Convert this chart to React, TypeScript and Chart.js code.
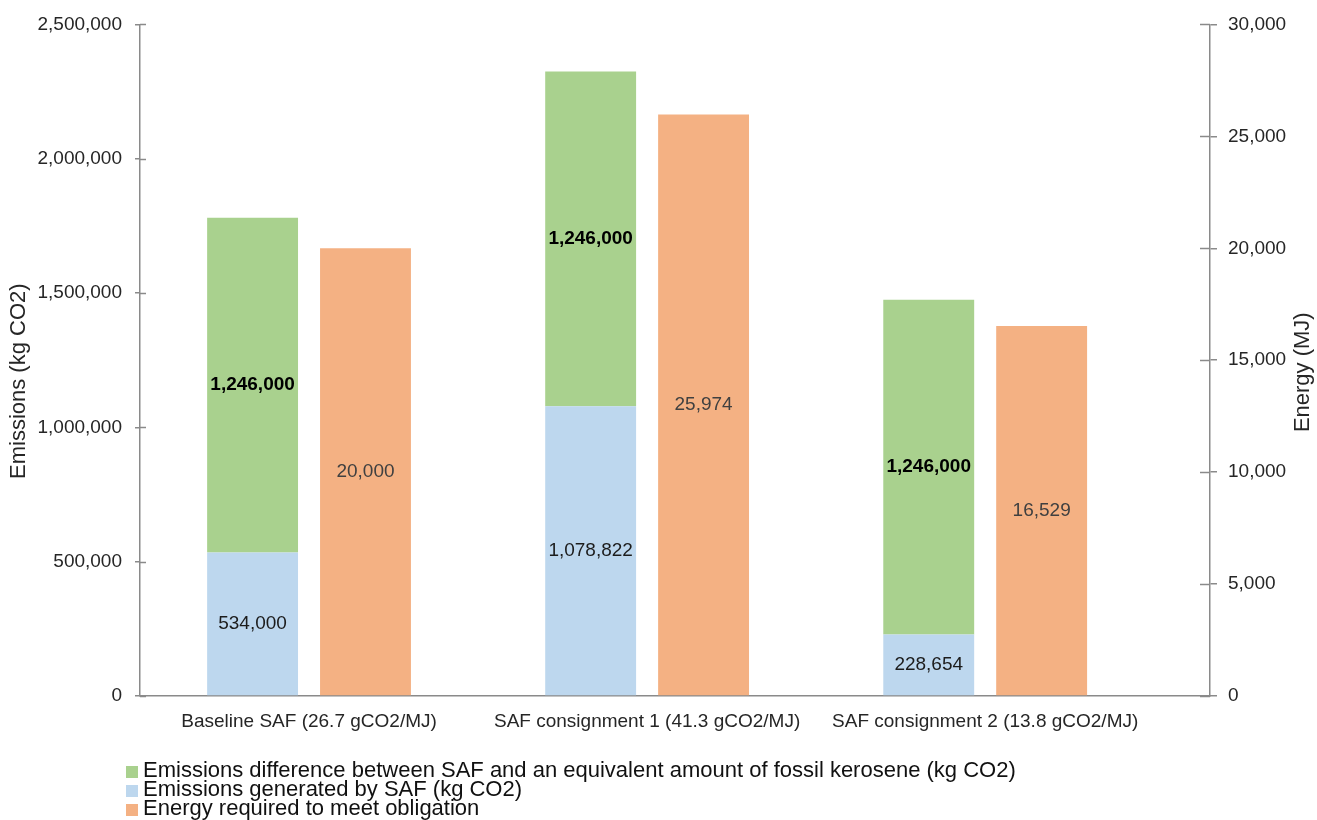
import React, { useEffect, useRef } from 'react';
import { Chart, registerables } from 'chart.js';

Chart.register(...registerables);

const FONT = "'Liberation Sans', Arial, sans-serif";

const categories = [
  'Baseline SAF (26.7 gCO2/MJ)',
  'SAF consignment 1 (41.3 gCO2/MJ)',
  'SAF consignment 2 (13.8 gCO2/MJ)',
];
const emissionsGenerated = [534000, 1078822, 228654];
const emissionsDifference = [1246000, 1246000, 1246000];
const energyRequired = [20000, 25974, 16529];

const seriesNames = [
  'Emissions generated by SAF (kg CO2)',
  'Emissions difference between SAF and an equivalent amount of fossil kerosene (kg CO2)',
  'Energy required to meet obligation',
];
const seriesColors = ['#BDD7EE', '#A9D18E', '#F4B183'];
const legendOrder = [1, 0, 2];

const leftAxisTitle = 'Emissions (kg CO2)';
const rightAxisTitle = 'Energy (MJ)';
const leftTickValues = [0, 500000, 1000000, 1500000, 2000000, 2500000];
const rightTickValues = [0, 5000, 10000, 15000, 20000, 25000, 30000];

const AXIS_COLOR = '#8a8a8a';
const TEXT_COLOR = '#262626';

const fmt = (v: number) => v.toLocaleString('en-US');

const valueLabels = {
  id: 'valueLabels',
  afterDatasetsDraw(chart: any) {
    const ctx = chart.ctx;
    chart.data.datasets.forEach((ds: any, i: number) => {
      const meta = chart.getDatasetMeta(i);
      meta.data.forEach((el: any, j: number) => {
        const { x, y } = el.getCenterPoint();
        ctx.save();
        ctx.font = `${ds.labelBold ? 'bold ' : ''}19px ${FONT}`;
        ctx.fillStyle = ds.labelColor;
        ctx.textAlign = 'center';
        ctx.textBaseline = 'middle';
        ctx.fillText(fmt(ds.data[j].y), x, y);
        ctx.restore();
      });
    });
  },
};

const innerTicks = {
  id: 'innerTicks',
  afterDraw(chart: any) {
    const ctx = chart.ctx;
    const ys = chart.scales.y;
    const y1 = chart.scales.y1;
    ctx.save();
    ctx.strokeStyle = AXIS_COLOR;
    ctx.lineWidth = 1.5;
    ys.ticks.forEach((t: any) => {
      const py = Math.round(ys.getPixelForValue(t.value)) + 0.5;
      ctx.beginPath();
      ctx.moveTo(ys.right, py);
      ctx.lineTo(ys.right + 6, py);
      ctx.stroke();
    });
    y1.ticks.forEach((t: any) => {
      const py = Math.round(y1.getPixelForValue(t.value)) + 0.5;
      ctx.beginPath();
      ctx.moveTo(y1.left - 10, py);
      ctx.lineTo(y1.left, py);
      ctx.stroke();
    });
    ctx.restore();
  },
};

const axisTitles = {
  id: 'axisTitles',
  afterDraw(chart: any) {
    const ctx = chart.ctx;
    const area = chart.chartArea;
    const midY = (area.top + area.bottom) / 2;
    const draw = (text: string, x: number, y: number) => {
      ctx.save();
      ctx.translate(x, y);
      ctx.rotate(-Math.PI / 2);
      ctx.font = `22px ${FONT}`;
      ctx.fillStyle = TEXT_COLOR;
      ctx.textAlign = 'center';
      ctx.textBaseline = 'middle';
      ctx.fillText(text, 0, 0);
      ctx.restore();
    };
    draw(leftAxisTitle, area.left - 121, midY + 21);
    draw(rightAxisTitle, area.right + 93, midY + 12);
  },
};

const customLegend = {
  id: 'customLegend',
  afterDraw(chart: any) {
    const ctx = chart.ctx;
    const area = chart.chartArea;
    const top = area.bottom + 75;
    ctx.save();
    ctx.font = `22px ${FONT}`;
    ctx.textAlign = 'left';
    ctx.textBaseline = 'middle';
    legendOrder.forEach((di, k) => {
      const ds = chart.data.datasets[di];
      const cy = top + k * 19;
      ctx.fillStyle = ds.backgroundColor;
      ctx.fillRect(area.left - 14, cy - 5, 12, 12);
      ctx.fillStyle = '#111';
      ctx.fillText(ds.label, area.left + 3, cy);
    });
    ctx.restore();
  },
};

export default function App() {
  const ref = useRef<HTMLCanvasElement>(null);

  useEffect(() => {
    if (!ref.current) return;
    const tickFont = { family: FONT, size: 19 };
    const chart = new Chart(ref.current, {
      type: 'bar',
      data: {
        datasets: [
          {
            label: seriesNames[0],
            data: emissionsGenerated.map((v, i) => ({ x: i, y: v })),
            backgroundColor: seriesColors[0],
            yAxisID: 'y',
            stack: 'emissions',
            labelColor: '#1c1c1c',
            labelBold: false,
          } as any,
          {
            label: seriesNames[1],
            data: emissionsDifference.map((v, i) => ({ x: i, y: v })),
            backgroundColor: seriesColors[1],
            yAxisID: 'y',
            stack: 'emissions',
            labelColor: '#000',
            labelBold: true,
          } as any,
          {
            label: seriesNames[2],
            data: energyRequired.map((v, i) => ({ x: i, y: v })),
            backgroundColor: seriesColors[2],
            yAxisID: 'y1',
            stack: 'energy',
            labelColor: '#404040',
            labelBold: false,
          } as any,
        ],
      },
      options: {
        responsive: false,
        animation: false,
        categoryPercentage: 0.668,
        barPercentage: 0.805,
        layout: { padding: { top: 24, left: 0, right: 0, bottom: 0 } },
        plugins: {
          legend: { display: false },
          tooltip: { enabled: false },
          title: { display: false },
        },
        scales: {
          x: {
            type: 'linear',
            offset: false,
            min: -0.5,
            max: 2.665,
            afterBuildTicks: (s: any) => {
              s.ticks = categories.map((_, i) => ({ value: i }));
            },
            afterFit: (s: any) => {
              s.height = 124;
            },
            ticks: {
              autoSkip: false,
              maxRotation: 0,
              padding: 14,
              color: TEXT_COLOR,
              font: tickFont,
              callback: (_v: any, i: number) => categories[i],
            },
            grid: { display: true, offset: false, drawOnChartArea: false, drawTicks: false },
            border: { display: true, color: AXIS_COLOR, width: 1.5 },
          } as any,
          y: {
            type: 'linear',
            position: 'left',
            stacked: true,
            min: leftTickValues[0],
            max: leftTickValues[leftTickValues.length - 1],
            afterBuildTicks: (s: any) => {
              s.ticks = leftTickValues.map((v) => ({ value: v }));
            },
            afterFit: (s: any) => {
              s.width = 140;
            },
            ticks: {
              padding: 13,
              color: TEXT_COLOR,
              font: tickFont,
              callback: (v: any) => fmt(Number(v)),
            },
            grid: {
              drawOnChartArea: false,
              tickLength: 5,
              color: AXIS_COLOR,
              lineWidth: 1.5,
            },
            border: { display: true, color: AXIS_COLOR, width: 1.5 },
          } as any,
          y1: {
            type: 'linear',
            position: 'right',
            stacked: true,
            min: rightTickValues[0],
            max: rightTickValues[rightTickValues.length - 1],
            afterBuildTicks: (s: any) => {
              s.ticks = rightTickValues.map((v) => ({ value: v }));
            },
            afterFit: (s: any) => {
              s.width = 107;
            },
            ticks: {
              padding: 11,
              color: TEXT_COLOR,
              font: tickFont,
              callback: (v: any) => fmt(Number(v)),
            },
            grid: {
              drawOnChartArea: false,
              tickLength: 7,
              color: AXIS_COLOR,
              lineWidth: 1.5,
            },
            border: { display: true, color: AXIS_COLOR, width: 1.5 },
          } as any,
        },
      },
      plugins: [valueLabels, innerTicks, axisTitles, customLegend],
    });
    return () => chart.destroy();
  }, []);

  return (
    <div style={{ position: 'absolute', left: 0, top: 0, width: 1317, height: 820, background: '#fff' }}>
      <canvas ref={ref} width={1317} height={820} style={{ display: 'block' }} />
    </div>
  );
}
